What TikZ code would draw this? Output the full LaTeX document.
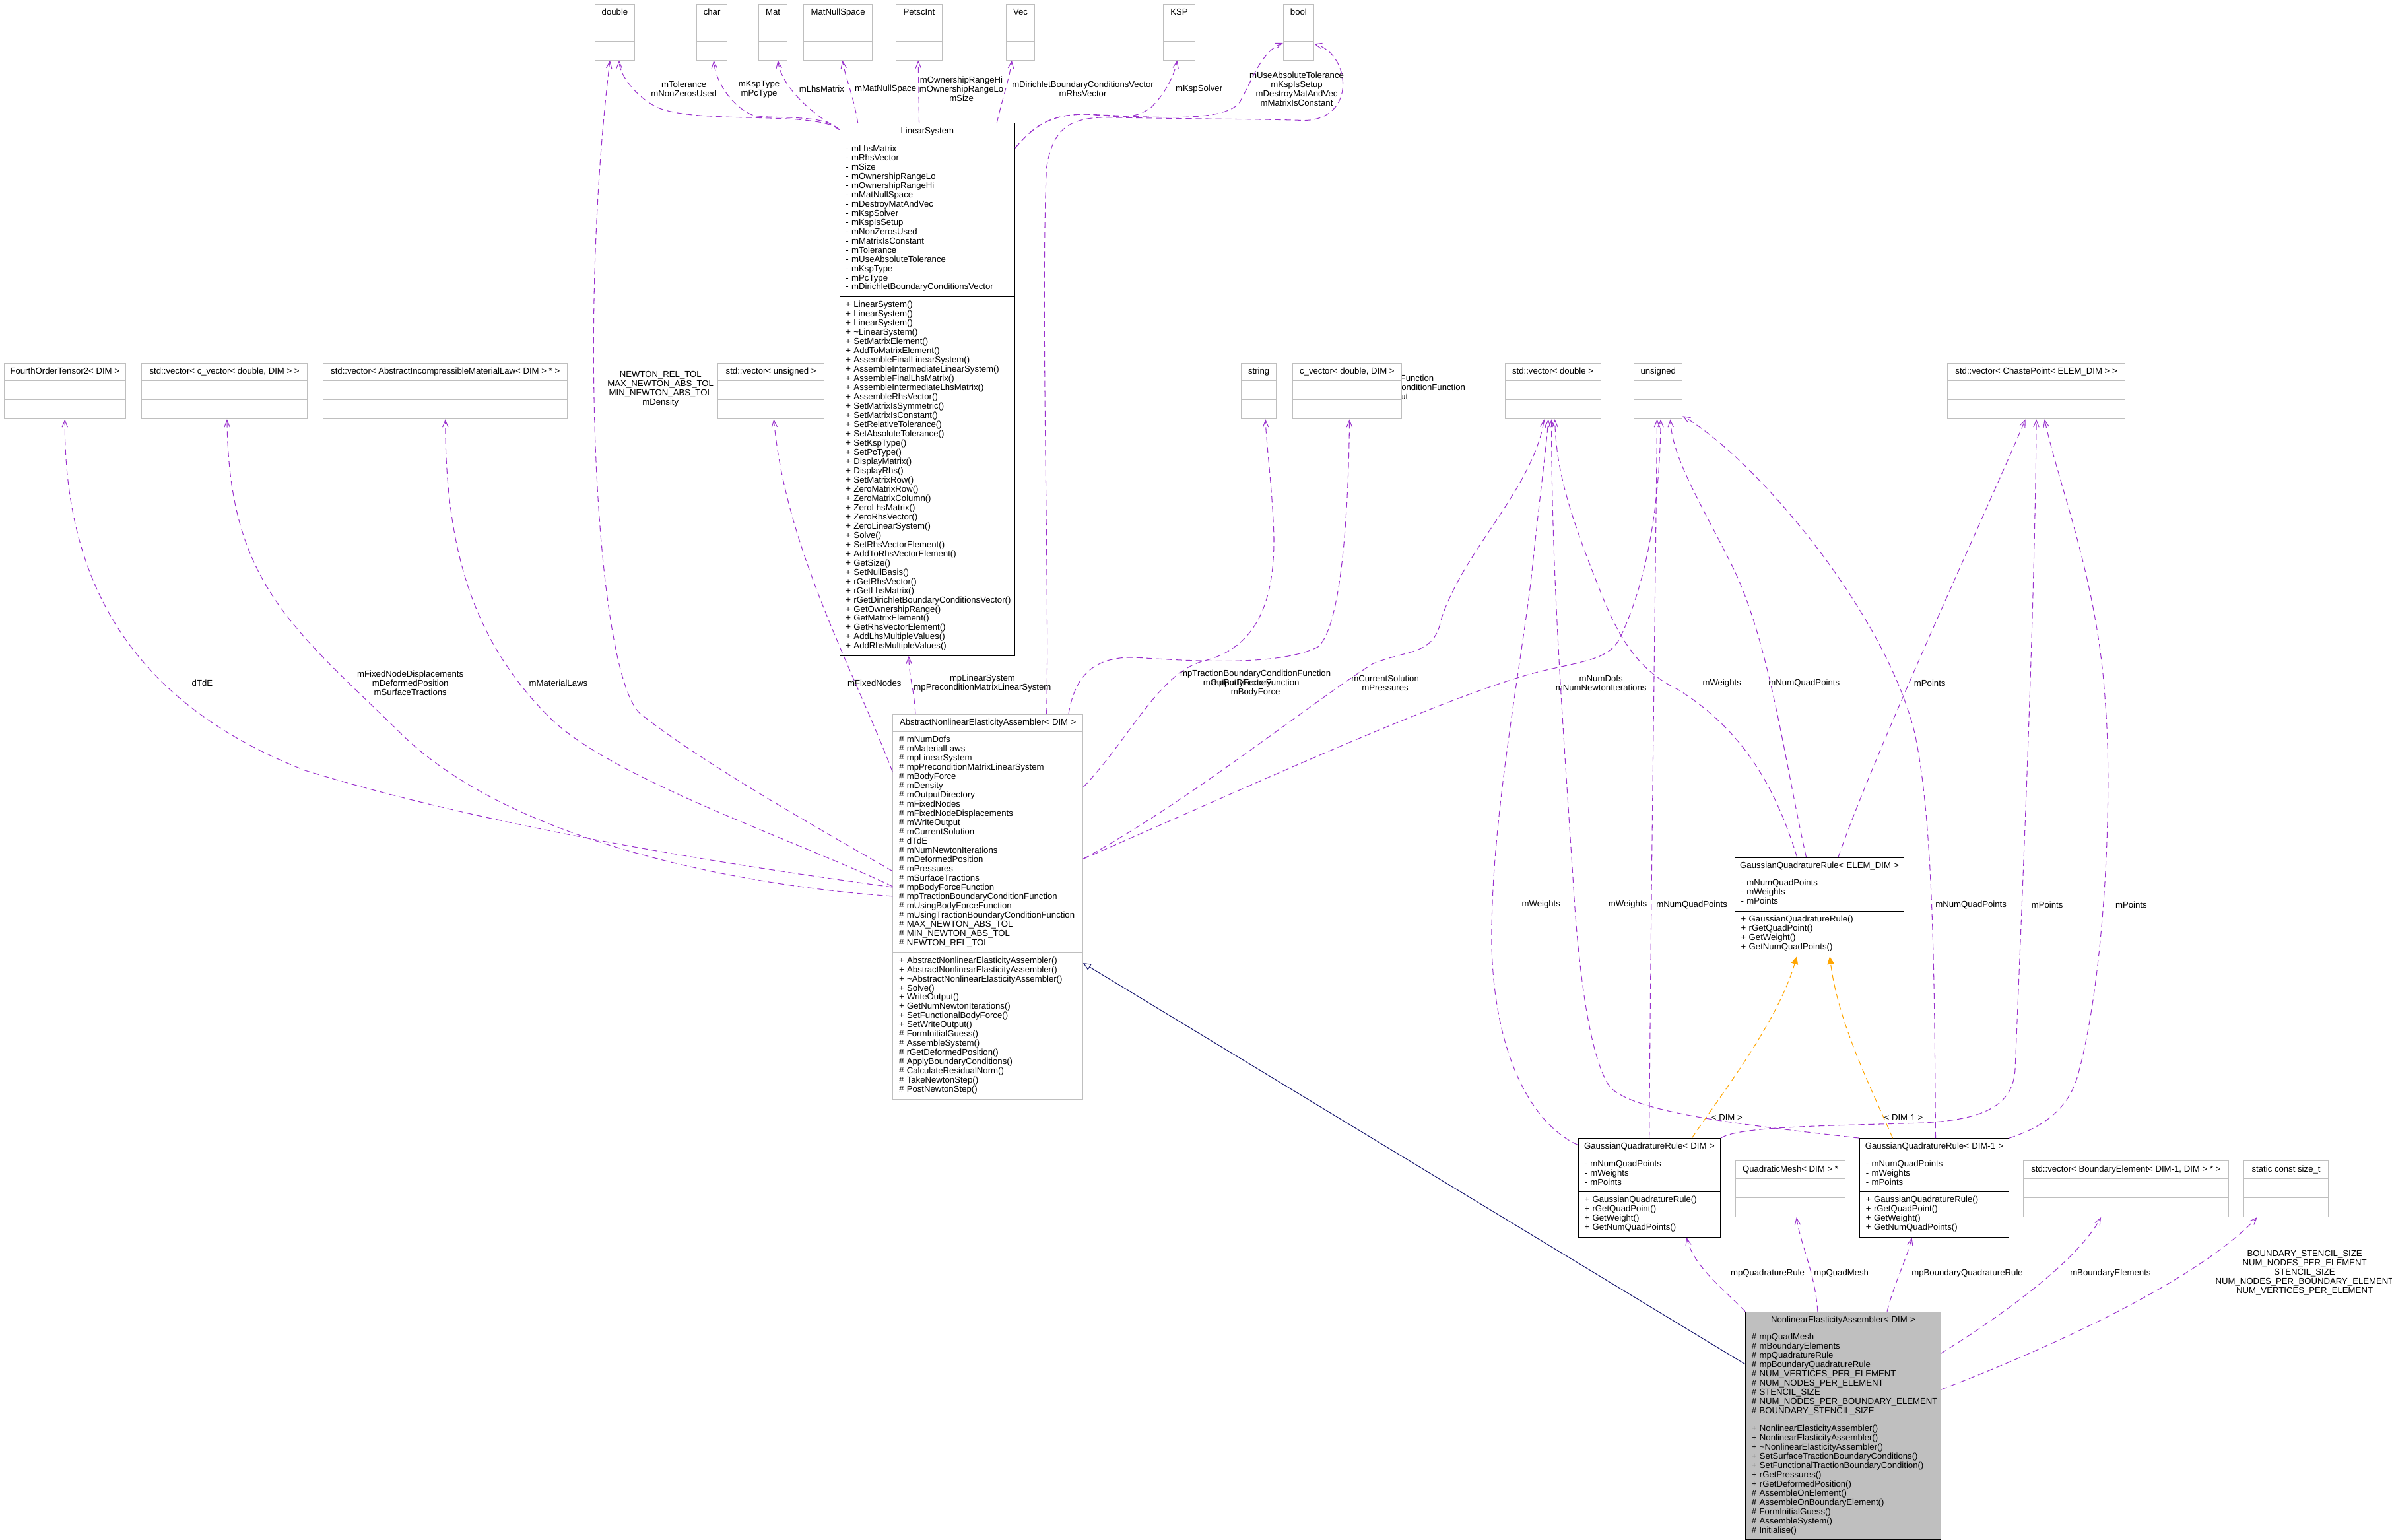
\documentclass[tikz,border=0pt]{standalone}
\usepackage{fontspec}
\setmainfont{Liberation Sans}
\usetikzlibrary{shapes.multipart,arrows.meta}
\definecolor{dxpurple}{HTML}{9A32CD}
\definecolor{dxgray}{HTML}{BFBFBF}
\definecolor{dxorange}{HTML}{FFA500}
\definecolor{dxblue}{HTML}{191970}
\newcommand{\dxfont}{\fontsize{5.7}{6.05}\selectfont}
\newcommand{\ctitle}[1]{\makebox[\linewidth]{\strut #1}}
\hyphenpenalty=10000
\exhyphenpenalty=10000

\begin{document}
\begin{tikzpicture}[
    x=1pt, y=-1pt,
    font=\dxfont,
    typebox/.style={rectangle split, rectangle split parts=3, draw=dxgray, fill=white,
        line width=0.45pt, inner xsep=4pt, inner ysep=2.5pt, anchor=north west,
        rectangle split ignore empty parts=false,
        rectangle split empty part height=4.235pt,
        rectangle split empty part depth=1.815pt,
        rectangle split empty part width=0pt},
    classbox/.style={typebox, draw=black, align=left},
    lbl/.style={inner sep=0pt, align=center},
    dep/.style={draw=dxpurple, line width=0.45pt, dash pattern=on 4pt off 2.5pt,
        -{Straight Barb[length=4.5pt, width=3.6pt]}},
    tmpl/.style={draw=dxorange, line width=0.45pt, dash pattern=on 4pt off 2.5pt,
        -{Triangle[length=5pt, width=4.5pt]}},
    inherit/.style={draw=dxblue, line width=0.45pt,
        -{Triangle[open, length=5pt, width=4.5pt, fill=white]}}
]
    \fill[white] (0,0) rectangle (1568,1009.4);
    \useasboundingbox (0,0) rectangle (1568,1009.4);

    % label partly covered by the c_vector box
    \node[lbl] (l-flags) at (905.5,254.6) {mUsingBodyForceFunction\\mUsingTractionBoundaryConditionFunction\\mWriteOutput};

    % member types, top row
    \node[typebox, minimum width=26pt] (dbl) at (389.8,2.6) {\strut double\nodepart{second}\nodepart{third}};
    \node[typebox, minimum width=19.9pt] (chr) at (456.5,2.6) {\strut char\nodepart{second}\nodepart{third}};
    \node[typebox, minimum width=18.7pt] (mat) at (497.1,2.6) {\strut Mat\nodepart{second}\nodepart{third}};
    \node[typebox, minimum width=45pt] (mns) at (526.6,2.6) {\strut MatNullSpace\nodepart{second}\nodepart{third}};
    \node[typebox, minimum width=30.5pt] (pint) at (587,2.6) {\strut PetscInt\nodepart{second}\nodepart{third}};
    \node[typebox, minimum width=18.6pt] (vec) at (659.4,2.6) {\strut Vec\nodepart{second}\nodepart{third}};
    \node[typebox, minimum width=20.5pt] (ksp) at (762.5,2.6) {\strut KSP\nodepart{second}\nodepart{third}};
    \node[typebox, minimum width=20pt] (bool) at (841,2.6) {\strut bool\nodepart{second}\nodepart{third}};

    % member types, second row
    \node[typebox, minimum width=79.3pt] (fot) at (2.5,237.85) {\strut FourthOrderTensor2< DIM >\nodepart{second}\nodepart{third}};
    \node[typebox, minimum width=108.7pt] (vcv) at (92.6,237.85) {\strut std::vector< c\_vector< double, DIM > >\nodepart{second}\nodepart{third}};
    \node[typebox, minimum width=160pt] (vml) at (211.7,237.85) {\strut std::vector< AbstractIncompressibleMaterialLaw< DIM > * >\nodepart{second}\nodepart{third}};
    \node[typebox, minimum width=69.6pt] (vun) at (470.4,237.85) {\strut std::vector< unsigned >\nodepart{second}\nodepart{third}};
    \node[typebox, minimum width=22.9pt] (str) at (813.5,237.85) {\strut string\nodepart{second}\nodepart{third}};
    \node[typebox, minimum width=71.6pt] (cvd) at (847,237.85) {\strut c\_vector< double, DIM >\nodepart{second}\nodepart{third}};
    \node[typebox, minimum width=62.7pt] (vdb) at (986.3,237.85) {\strut std::vector< double >\nodepart{second}\nodepart{third}};
    \node[typebox, minimum width=31.5pt] (uns) at (1071,237.85) {\strut unsigned\nodepart{second}\nodepart{third}};
    \node[typebox, minimum width=116.6pt] (vcp) at (1276.3,237.85) {\strut std::vector< ChastePoint< ELEM\_DIM > >\nodepart{second}\nodepart{third}};

    \node[classbox, text width=106.8pt] (ls) at (550.2,80.5) {\ctitle{LinearSystem}
        \nodepart{second}\strut -~mLhsMatrix\\
        -~mRhsVector\\
        -~mSize\\
        -~mOwnershipRangeLo\\
        -~mOwnershipRangeHi\\
        -~mMatNullSpace\\
        -~mDestroyMatAndVec\\
        -~mKspSolver\\
        -~mKspIsSetup\\
        -~mNonZerosUsed\\
        -~mMatrixIsConstant\\
        -~mTolerance\\
        -~mUseAbsoluteTolerance\\
        -~mKspType\\
        -~mPcType\\
        -~mDirichletBoundaryConditionsVector\strut
        \nodepart{third}\strut +~LinearSystem()\\
        +~LinearSystem()\\
        +~LinearSystem()\\
        +~\textasciitilde LinearSystem()\\
        +~SetMatrixElement()\\
        +~AddToMatrixElement()\\
        +~AssembleFinalLinearSystem()\\
        +~AssembleIntermediateLinearSystem()\\
        +~AssembleFinalLhsMatrix()\\
        +~AssembleIntermediateLhsMatrix()\\
        +~AssembleRhsVector()\\
        +~SetMatrixIsSymmetric()\\
        +~SetMatrixIsConstant()\\
        +~SetRelativeTolerance()\\
        +~SetAbsoluteTolerance()\\
        +~SetKspType()\\
        +~SetPcType()\\
        +~DisplayMatrix()\\
        +~DisplayRhs()\\
        +~SetMatrixRow()\\
        +~ZeroMatrixRow()\\
        +~ZeroMatrixColumn()\\
        +~ZeroLhsMatrix()\\
        +~ZeroRhsVector()\\
        +~ZeroLinearSystem()\\
        +~Solve()\\
        +~SetRhsVectorElement()\\
        +~AddToRhsVectorElement()\\
        +~GetSize()\\
        +~SetNullBasis()\\
        +~rGetRhsVector()\\
        +~rGetLhsMatrix()\\
        \mbox{+~rGetDirichletBoundaryConditionsVector()}\\
        +~GetOwnershipRange()\\
        +~GetMatrixElement()\\
        +~GetRhsVectorElement()\\
        +~AddLhsMultipleValues()\\
        +~AddRhsMultipleValues()\strut};

    \node[classbox, draw=dxgray, text width=116.5pt] (abs) at (585.1,468) {\ctitle{AbstractNonlinearElasticityAssembler< DIM >}
        \nodepart{second}\strut \#~mNumDofs\\
        \#~mMaterialLaws\\
        \#~mpLinearSystem\\
        \#~mpPreconditionMatrixLinearSystem\\
        \#~mBodyForce\\
        \#~mDensity\\
        \#~mOutputDirectory\\
        \#~mFixedNodes\\
        \#~mFixedNodeDisplacements\\
        \#~mWriteOutput\\
        \#~mCurrentSolution\\
        \#~dTdE\\
        \#~mNumNewtonIterations\\
        \#~mDeformedPosition\\
        \#~mPressures\\
        \#~mSurfaceTractions\\
        \#~mpBodyForceFunction\\
        \#~mpTractionBoundaryConditionFunction\\
        \#~mUsingBodyForceFunction\\
        \mbox{\#~mUsingTractionBoundaryConditionFunction}\\
        \#~MAX\_NEWTON\_ABS\_TOL\\
        \#~MIN\_NEWTON\_ABS\_TOL\\
        \#~NEWTON\_REL\_TOL\strut
        \nodepart{third}\strut +~AbstractNonlinearElasticityAssembler()\\
        +~AbstractNonlinearElasticityAssembler()\\
        \mbox{+~\textasciitilde AbstractNonlinearElasticityAssembler()}\\
        +~Solve()\\
        +~WriteOutput()\\
        +~GetNumNewtonIterations()\\
        +~SetFunctionalBodyForce()\\
        +~SetWriteOutput()\\
        \#~FormInitialGuess()\\
        \#~AssembleSystem()\\
        \#~rGetDeformedPosition()\\
        \#~ApplyBoundaryConditions()\\
        \#~CalculateResidualNorm()\\
        \#~TakeNewtonStep()\\
        \#~PostNewtonStep()\strut};

    \node[classbox, text width=103pt] (elem) at (1137,561.8) {\ctitle{GaussianQuadratureRule< ELEM\_DIM >}
        \nodepart{second}\strut -~mNumQuadPoints\\
        -~mWeights\\
        -~mPoints\strut
        \nodepart{third}\strut +~GaussianQuadratureRule()\\
        +~rGetQuadPoint()\\
        +~GetWeight()\\
        +~GetNumQuadPoints()\strut};

    \node[classbox, text width=85.1pt] (dim) at (1034.4,746) {\ctitle{GaussianQuadratureRule< DIM >}
        \nodepart{second}\strut -~mNumQuadPoints\\
        -~mWeights\\
        -~mPoints\strut
        \nodepart{third}\strut +~GaussianQuadratureRule()\\
        +~rGetQuadPoint()\\
        +~GetWeight()\\
        +~GetNumQuadPoints()\strut};

    \node[classbox, text width=89.7pt] (dm1) at (1218.9,746) {\ctitle{GaussianQuadratureRule< DIM-1 >}
        \nodepart{second}\strut -~mNumQuadPoints\\
        -~mWeights\\
        -~mPoints\strut
        \nodepart{third}\strut +~GaussianQuadratureRule()\\
        +~rGetQuadPoint()\\
        +~GetWeight()\\
        +~GetNumQuadPoints()\strut};

    \node[typebox, minimum width=72pt] (qm) at (1137.4,760.8) {\strut QuadraticMesh< DIM > *\nodepart{second}\nodepart{third}};
    \node[typebox, minimum width=134.7pt] (vbe) at (1326,760.8) {\strut std::vector< BoundaryElement< DIM-1, DIM > * >\nodepart{second}\nodepart{third}};
    \node[typebox, minimum width=55.3pt] (scs) at (1470.7,760.8) {\strut static const size\_t\nodepart{second}\nodepart{third}};

    \node[classbox, fill=dxgray, text width=120pt] (nea) at (1144,859.6) {\ctitle{NonlinearElasticityAssembler< DIM >}
        \nodepart{second}\strut \#~mpQuadMesh\\
        \#~mBoundaryElements\\
        \#~mpQuadratureRule\\
        \#~mpBoundaryQuadratureRule\\
        \#~NUM\_VERTICES\_PER\_ELEMENT\\
        \#~NUM\_NODES\_PER\_ELEMENT\\
        \#~STENCIL\_SIZE\\
        \mbox{\#~NUM\_NODES\_PER\_BOUNDARY\_ELEMENT}\\
        \#~BOUNDARY\_STENCIL\_SIZE\strut
        \nodepart{third}\strut +~NonlinearElasticityAssembler()\\
        +~NonlinearElasticityAssembler()\\
        +~\textasciitilde NonlinearElasticityAssembler()\\
        +~SetSurfaceTractionBoundaryConditions()\\
        \mbox{+~SetFunctionalTractionBoundaryCondition()}\\
        +~rGetPressures()\\
        +~rGetDeformedPosition()\\
        \#~AssembleOnElement()\\
        \#~AssembleOnBoundaryElement()\\
        \#~FormInitialGuess()\\
        \#~AssembleSystem()\\
        \#~Initialise()\strut};

    % edge labels
    \node[lbl] (l-dbl) at (448.3,58.4) {mTolerance\\mNonZerosUsed};
    \node[lbl] (l-chr) at (497.6,58.4) {mKspType\\mPcType};
    \node[lbl] (l-mat) at (538.6,58.4) {mLhsMatrix};
    \node[lbl] (l-mns) at (580.5,58.4) {mMatNullSpace};
    \node[lbl] (l-pint) at (630.2,58.4) {mOwnershipRangeHi\\mOwnershipRangeLo\\mSize};
    \node[lbl] (l-vec) at (709.8,58.4) {mDirichletBoundaryConditionsVector\\mRhsVector};
    \node[lbl] (l-ksp) at (786,58.4) {mKspSolver};
    \node[lbl] (l-bool) at (850,58.4) {mUseAbsoluteTolerance\\mKspIsSetup\\mDestroyMatAndVec\\mMatrixIsConstant};
    \node[lbl] (l-tols) at (433,255) {NEWTON\_REL\_TOL\\MAX\_NEWTON\_ABS\_TOL\\MIN\_NEWTON\_ABS\_TOL\\mDensity};
    \node[lbl] (l-dtde) at (132.6,447.8) {dTdE};
    \node[lbl] (l-vcv) at (269,447.9) {mFixedNodeDisplacements\\mDeformedPosition\\mSurfaceTractions};
    \node[lbl] (l-vml) at (366,447.9) {mMaterialLaws};
    \node[lbl] (l-vun) at (573.2,447.6) {mFixedNodes};
    \node[lbl] (l-ls) at (644,447.7) {mpLinearSystem\\mpPreconditionMatrixLinearSystem};
    \node[lbl] (l-cvd) at (823,447.8) {mpTractionBoundaryConditionFunction\\mpBodyForceFunction\\mBodyForce};
    \node[lbl] (l-str) at (811,447.8) {mOutputDirectory};
    \node[lbl] (l-vdb) at (908,447.8) {mCurrentSolution\\mPressures};
    \node[lbl] (l-uns) at (1049.5,447.8) {mNumDofs\\mNumNewtonIterations};
    \node[lbl] (l-ew) at (1128.7,447.8) {mWeights};
    \node[lbl] (l-enq) at (1182.6,447.8) {mNumQuadPoints};
    \node[lbl] (l-ep) at (1265,447.8) {mPoints};
    \node[lbl] (l-dw) at (1010.2,593) {mWeights};
    \node[lbl] (l-d1w) at (1067,593) {mWeights};
    \node[lbl] (l-dnq) at (1109,593) {mNumQuadPoints};
    \node[lbl] (l-d1nq) at (1292,593) {mNumQuadPoints};
    \node[lbl] (l-dp) at (1342,593) {mPoints};
    \node[lbl] (l-d1p) at (1397,593) {mPoints};
    \node[lbl] (l-tdim) at (1132,732.7) {< DIM >};
    \node[lbl] (l-tdm1) at (1247.8,732.7) {< DIM-1 >};
    \node[lbl] (l-qr) at (1158.7,834.5) {mpQuadratureRule};
    \node[lbl] (l-qm) at (1207,834.5) {mpQuadMesh};
    \node[lbl] (l-bqr) at (1289.6,834.5) {mpBoundaryQuadratureRule};
    \node[lbl] (l-vbe) at (1383.4,834.5) {mBoundaryElements};
    \node[lbl] (l-scs) at (1510.7,834.2) {BOUNDARY\_STENCIL\_SIZE\\NUM\_NODES\_PER\_ELEMENT\\STENCIL\_SIZE\\NUM\_NODES\_PER\_BOUNDARY\_ELEMENT\\NUM\_VERTICES\_PER\_ELEMENT};

    % LinearSystem members
    \draw[dep] ([yshift=-4.5pt]ls.north west) .. controls (535,72) and (455,82) .. (430,70) .. controls (415,62) and (406,48) .. ([xshift=2.8pt]dbl.south);
    \draw[dep] ([yshift=-4.5pt]ls.north west) .. controls (540,75) and (515,78) .. (495,76) .. controls (482,72) and (469,55) .. ([xshift=1.25pt]chr.south);
    \draw[dep] ([yshift=-4.5pt]ls.north west) .. controls (528,72) and (512,55) .. ([xshift=3.25pt]mat.south);
    \draw[dep] ([xshift=12.1pt]ls.north west) .. controls (560,65) and (554,50) .. ([xshift=2.9pt]mns.south);
    \draw[dep] ([xshift=52.3pt]ls.north west) -- ([xshift=-0.55pt]pint.south);
    \draw[dep] ([xshift=-12pt]ls.north east) .. controls (657,65) and (662,50) .. ([xshift=-5.7pt]vec.south);
    \draw[dep] ([yshift=-16.5pt]ls.north east) .. controls (678,82) and (690,74) .. (715,75) .. controls (735,77) and (745,78) .. (755,70) .. controls (765,60) and (770,48) .. ([xshift=-1.35pt]ksp.south);
    \draw[dep] ([yshift=-16.5pt]ls.north east) .. controls (678,82) and (690,74) .. (715,75) .. controls (760,77) and (800,80) .. (812,68) .. controls (820,55) and (826,34) .. ([yshift=-7pt]bool.west);

    % AbstractNonlinearElasticityAssembler members
    \draw[dep] ([xshift=-24pt]abs.north east) .. controls (688,380) and (682,200) .. (686,110) .. controls (690,85) and (700,76) .. (730,77) .. controls (780,78) and (830,78) .. (855,79) .. controls (890,78) and (885,35) .. ([yshift=-7.6pt]bool.east);
    \draw[dep] ([xshift=15pt]abs.north west) .. controls (599,450) and (596,445) .. ([xshift=45.5pt]ls.south west);
    \draw[dep] ([yshift=-103pt]abs.north west) .. controls (540,545) and (460,500) .. (420,468) .. controls (392,445) and (378,220) .. ([xshift=-3.2pt]dbl.south);
    \draw[dep] ([yshift=-113.5pt]abs.north west) .. controls (500,570) and (330,545) .. (200,505) .. controls (85,460) and (42,380) .. (fot.south);
    \draw[dep] ([yshift=-119.5pt]abs.north west) .. controls (480,580) and (330,550) .. (260,478) .. controls (190,410) and (150,380) .. ([xshift=1.65pt]vcv.south);
    \draw[dep] ([yshift=-113pt]abs.north west) .. controls (520,550) and (400,510) .. (360,470) .. controls (310,420) and (292,360) .. (vml.south);
    \draw[dep] ([yshift=-38pt]abs.north west) .. controls (560,440) and (515,360) .. ([xshift=1.8pt]vun.south);
    \draw[dep] ([yshift=-48pt]abs.north east) .. controls (740,485) and (760,440) .. (790,433) .. controls (820,425) and (836,400) .. (835,350) .. controls (834,320) and (830,290) .. ([xshift=4.35pt]str.south);
    \draw[dep] ([xshift=-9.6pt]abs.north east) .. controls (705,440) and (720,430) .. (745,431) .. controls (790,434) and (840,436) .. (864,424) .. controls (880,410) and (884,330) .. ([xshift=1.6pt]cvd.south);
    \draw[dep] ([yshift=-95pt]abs.north east) .. controls (780,525) and (860,460) .. (900,435) .. controls (925,425) and (940,430) .. (945,405) .. controls (960,360) and (1005,320) .. ([xshift=-5.65pt]vdb.south);
    \draw[dep] ([yshift=-95pt]abs.north east) .. controls (820,515) and (950,455) .. (1010,440) .. controls (1040,433) and (1055,432) .. (1062,418) .. controls (1080,380) and (1088,330) .. ([xshift=1.65pt]uns.south);

    % quadrature rule members
    \draw[dep] ([xshift=41pt]elem.north west) .. controls (1165,520) and (1145,480) .. (1100,452) .. controls (1075,440) and (1062,420) .. (1050,390) .. controls (1030,340) and (1020,310) .. ([xshift=1.35pt]vdb.south);
    \draw[dep] ([xshift=47pt]elem.north west) .. controls (1170,500) and (1160,420) .. (1135,370) .. controls (1115,330) and (1096,300) .. ([xshift=7.95pt]uns.south);
    \draw[dep] ([xshift=68pt]elem.north west) .. controls (1230,490) and (1300,340) .. ([xshift=-7.1pt]vcp.south);
    \draw[dep] ([yshift=-4.5pt]dim.north west) .. controls (1000,735) and (975,680) .. (978,600) .. controls (980,520) and (1000,420) .. (1005,367) .. controls (1010,320) and (1014,290) .. ([xshift=-2.95pt]vdb.south);
    \draw[dep] ([xshift=46.7pt]dim.north west) .. controls (1082,600) and (1085,400) .. ([xshift=-0.75pt]uns.south);
    \draw[dep] (dim.north east) .. controls (1140,738) and (1200,738) .. (1260,736) .. controls (1300,734) and (1320,725) .. (1321,700) .. controls (1325,600) and (1334,400) .. (vcp.south);
    \draw[dep] (dm1.north west) .. controls (1150,738) and (1070,730) .. (1055,712) .. controls (1040,690) and (1034,620) .. (1032,590) .. controls (1025,480) and (1017,380) .. ([xshift=-0.85pt]vdb.south);
    \draw[dep] ([xshift=49.9pt]dm1.north west) .. controls (1268,650) and (1268,540) .. (1255,480) .. controls (1235,400) and (1150,300) .. ([yshift=2.2pt]uns.south east);
    \draw[dep] (dm1.north east) .. controls (1335,740) and (1355,730) .. (1362,705) .. controls (1380,640) and (1385,520) .. (1380,460) .. controls (1375,380) and (1350,320) .. ([xshift=5.4pt]vcp.south);

    % template instances
    \draw[tmpl] ([xshift=74.6pt]dim.north west) .. controls (1130,715) and (1165,670) .. ([xshift=-14.9pt]elem.south);
    \draw[tmpl] ([xshift=21.8pt]dm1.north west) .. controls (1225,710) and (1205,670) .. ([xshift=6.7pt]elem.south);

    % NonlinearElasticityAssembler
    \draw[inherit] ([yshift=-34.6pt]nea.north west) -- ([yshift=-163.3pt]abs.north east);
    \draw[dep] (nea.north west) .. controls (1130,845) and (1110,830) .. ([xshift=24.45pt]dim.south);
    \draw[dep] ([xshift=47.5pt]nea.north west) .. controls (1190,835) and (1180,815) .. ([xshift=4pt]qm.south);
    \draw[dep] ([xshift=93pt]nea.north west) .. controls (1242,840) and (1250,825) .. ([xshift=-14.75pt]dm1.south);
    \draw[dep] ([yshift=-27.4pt]nea.north east) .. controls (1300,870) and (1360,830) .. ([xshift=-16.35pt]vbe.south);
    \draw[dep] ([yshift=-51.2pt]nea.north east) .. controls (1340,885) and (1440,840) .. ([xshift=-18.95pt]scs.south);
\end{tikzpicture}
\end{document}
